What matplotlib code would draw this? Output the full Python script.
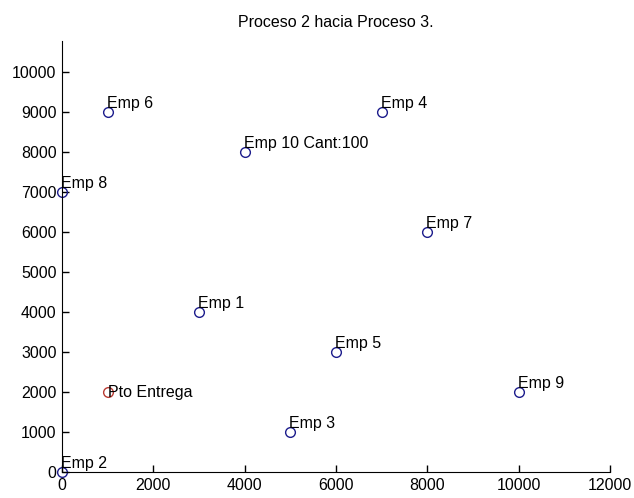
import matplotlib.pyplot as plt

# Company locations (x, y) and labels
emp_x = [3000, 0, 5000, 7000, 6000, 1000, 8000, 0, 10000, 4000]
emp_y = [4000, 0, 1000, 9000, 3000, 9000, 6000, 7000, 2000, 8000]
emp_labels = ["Emp 1", "Emp 2", "Emp 3", "Emp 4", "Emp 5",
              "Emp 6", "Emp 7", "Emp 8", "Emp 9", "Emp 10 Cant:100"]

# Delivery point
depot_x = [1000]
depot_y = [2000]
depot_label = "Pto Entrega"

plt.rcParams["font.family"] = ["Liberation Sans", "DejaVu Sans"]
plt.rcParams["font.size"] = 11.5

fig = plt.figure(figsize=(6.34, 4.98), dpi=100)
ax = fig.add_axes([0.098, 0.052, 0.864, 0.866])

ax.plot(emp_x, emp_y, "o", mfc="none", mec="#1c1c8c", ms=7, mew=1.0,
        clip_on=False)
ax.plot(depot_x, depot_y, "o", mfc="none", mec="#b83a32", ms=7, mew=1.0,
        clip_on=False)

for x, y, lbl in zip(emp_x, emp_y, emp_labels):
    ax.text(x - 20, y + 220, lbl, ha="left", va="center")
ax.text(depot_x[0], depot_y[0], depot_label, ha="left", va="center")

ax.set_xlim(0, 12000)
ax.set_ylim(0, 10780)
ax.set_xticks(range(0, 12001, 2000))
ax.set_yticks(range(0, 10001, 1000))
ax.tick_params(direction="in", length=5, width=1, labelsize=11.5, pad=4)
ax.spines["top"].set_visible(False)
ax.spines["right"].set_visible(False)
ax.set_title("Proceso 2 hacia Proceso 3.", fontsize=11.5, pad=10)

fig.savefig("out.png", dpi=100)
